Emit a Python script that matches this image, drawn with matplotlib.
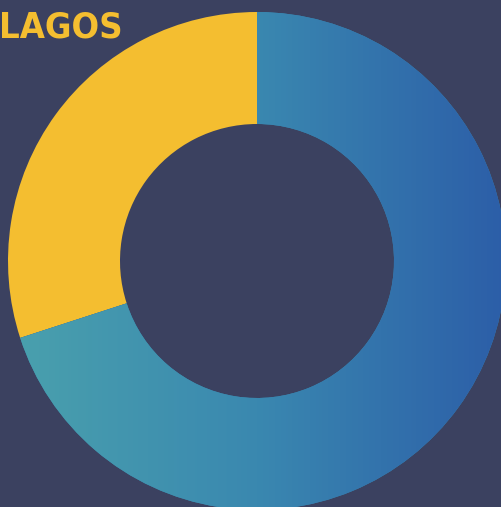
import numpy as np
import matplotlib.pyplot as plt
from matplotlib.colors import LinearSegmentedColormap

# --- Data ---
labels = ['Yellow share', 'Blue share']
values = [30, 70]
title = 'LAGOS'

bg = '#3b4160'
yellow = '#f4be30'
grad = LinearSegmentedColormap.from_list('g', ['#4aa1ad', '#3a88b0', '#2c5ea8'])

W, H = 501, 507
fig = plt.figure(figsize=(W / 100, H / 100), dpi=100, facecolor=bg)
ax = fig.add_axes([0, 0, 1, 1])
ax.set_facecolor(bg)

cx, cy, r_out, r_in = 257, 246, 249, 137
wedges, _ = ax.pie(values, colors=[yellow, '#3a88b0'], startangle=90,
                   counterclock=True, center=(cx, cy), radius=r_out,
                   wedgeprops=dict(width=r_out - r_in, linewidth=0))

# horizontal gradient on the blue part
g = np.linspace(0, 1, 256).reshape(1, -1)
im = ax.imshow(g, cmap=grad, extent=[cx - r_out, cx + r_out, cy - r_out, cy + r_out],
               aspect='auto', zorder=wedges[1].get_zorder() + 0.1)
im.set_clip_path(wedges[1])

ax.text(-1, H - 28, title, color=yellow, fontsize=26, fontweight='bold',
        fontstretch='condensed', family='DejaVu Sans', va='center', ha='left')

ax.set_xlim(0, W)
ax.set_ylim(0, H)
ax.set_aspect('auto')
ax.axis('off')

plt.savefig('out.png', dpi=100, facecolor=bg)
